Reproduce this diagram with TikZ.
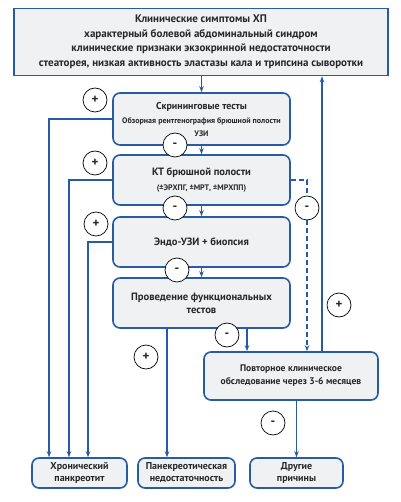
\documentclass[tikz,border=0pt]{standalone}
\usepackage{fontspec}
\setmainfont{PT Sans}
\usetikzlibrary{arrows.meta,positioning}
\definecolor{lineblue}{RGB}{38,92,165}
\definecolor{boxfill}{RGB}{240,241,243}
\definecolor{txt}{RGB}{40,40,40}
\tikzset{
  box/.style={draw=lineblue, line width=1.6pt, fill=boxfill, rounded corners=7pt, align=center, text=txt, font=\bfseries\fontsize{10.6}{13}\selectfont, inner sep=2pt},
  topbox/.style={box, rounded corners=0pt},
  arr/.style={draw=lineblue, line width=1.4pt, -{Stealth[length=6pt,width=4.5pt]}},
  sign/.style={circle, draw=black, line width=0.7pt, fill=white, minimum size=24pt, inner sep=0pt, font=\bfseries\fontsize{13}{13}\selectfont, text=txt},
}
\begin{document}
\begin{tikzpicture}[x=1pt,y=-1pt]
\useasboundingbox (0,0) rectangle (400,502);
\fill[white] (0,0) rectangle (400,502);
% boxes
\node[topbox, minimum width=374pt, minimum height=67pt, font=\bfseries\fontsize{11}{14.5}\selectfont] (top) at (201,42)
 {Клинические симптомы ХП\\характерный болевой абдоминальный синдром\\клинические признаки экзокринной недостаточности\\стеаторея, низкая активность эластазы кала и трипсина сыворотки};
\node[box, minimum width=177pt, minimum height=52pt, font=\bfseries\fontsize{10}{12}\selectfont] (scr) at (201.5,119)
 {Скрининговые тесты\\[2pt]{\fontsize{8}{10}\selectfont Обзорная рентгенография брюшной полости}\\[1pt]{\fontsize{8}{9}\selectfont УЗИ}};
\node[box, minimum width=177pt, minimum height=50pt] (kt) at (201.5,180)
 {КТ брюшной полости\\[2pt]{\fontsize{8}{9}\selectfont (±ЭРХПГ, ±МРТ, ±МРХПП)}};
\node[box, minimum width=177pt, minimum height=50pt] (endo) at (201.5,242) {Эндо-УЗИ + биопсия};
\node[box, minimum width=177pt, minimum height=50pt] (func) at (201.5,303) {Проведение функциональных\\тестов};
\node[box, minimum width=174pt, minimum height=48pt, font=\bfseries\fontsize{9.6}{13}\selectfont] (povt) at (291,376) {Повторное клиническое\\обследование через 3-6 месяцев};
\node[box, minimum width=95pt, minimum height=30pt, inner sep=1pt, font=\bfseries\fontsize{10}{12}\selectfont] (hron) at (79.5,473) {Хронический\\панкреотит};
\node[box, minimum width=97pt, minimum height=30pt, inner sep=1pt, font=\bfseries\fontsize{10}{12}\selectfont] (pank) at (186.5,473) {Панекреотическая\\недостаточность};
\node[box, minimum width=93pt, minimum height=30pt, inner sep=1pt, font=\bfseries\fontsize{10}{12}\selectfont] (drug) at (296.5,473) {Другие\\причины};
% helper x positions
\coordinate (xa) at (49,0);
\coordinate (xb) at (69,0);
\coordinate (xc) at (88,0);
\coordinate (xd) at (167,0);
\coordinate (xe) at (247,0);
\coordinate (xf) at (307,0);
\coordinate (xg) at (322,0);
% main chain
\draw[arr] (top.south -| scr.north) -- (scr.north);
\draw[arr] (scr.south) -- (kt.north);
\draw[arr] (kt.south) -- (endo.north);
\draw[arr] (endo.south) -- (func.north);
\draw[arr] (func.south -| xe) -- (povt.north -| xe);
\draw[arr, dashed, dash pattern=on 5pt off 3pt] (kt.east) -| (povt.north -| xf);
\draw[arr] (povt.north -| xg) -- (top.south -| xg);
\draw[arr] (povt.south -| drug.north) -- (drug.north);
% to chronic pancreatitis
\draw[arr] (scr.west) -| (hron.north -| xa);
\draw[arr] (kt.west) -| (hron.north -| xb);
\draw[arr] (endo.west) -| (hron.north -| xc);
\draw[arr] (func.south -| xd) -- (pank.north -| xd);
% signs
\node[sign] (p1) at (95,100) {+};
\node[sign] (p2) at (95,163) {+};
\node[sign] (p3) at (96,224) {+};
\node[sign] (p4) at (146,357) {+};
\node[sign] (p5) at (339,305) {+};
\node[sign] (m1) at (175,145) {-};
\node[sign] (m2) at (175,208) {-};
\node[sign] (m3) at (177,270) {-};
\node[sign] (m4) at (227,335) {-};
\node[sign] (m5) at (307,208) {-};
\node[sign] (m6) at (273,423) {-};
\end{tikzpicture}
\end{document}
